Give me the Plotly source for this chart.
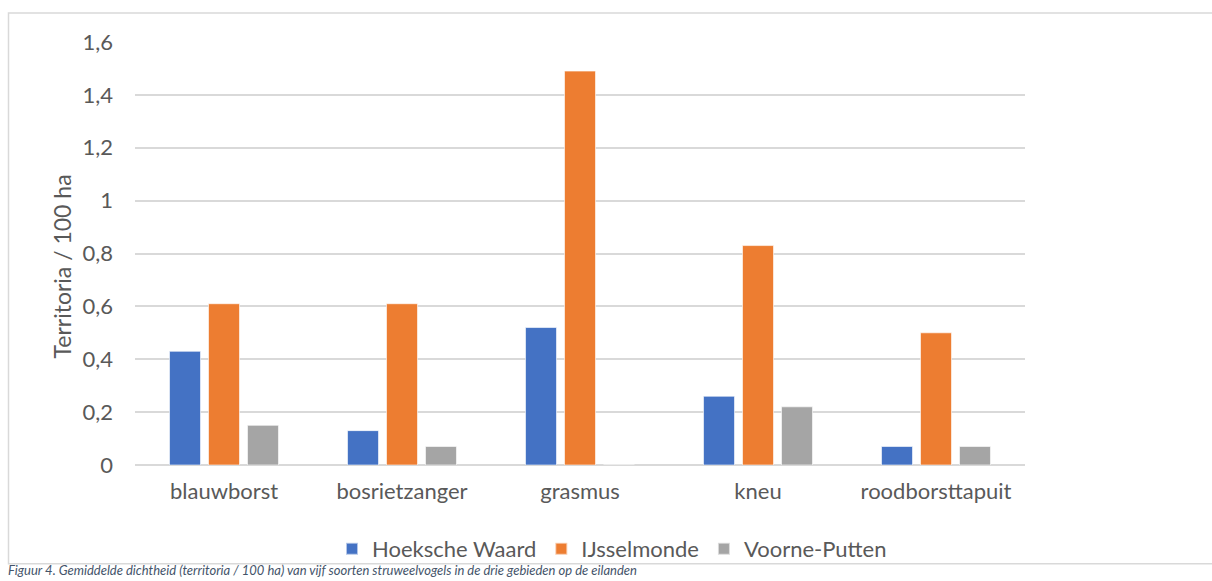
import plotly.graph_objects as go

categories = ["blauwborst", "bosrietzanger", "grasmus", "kneu", "roodborsttapuit"]
series_names = ["Hoeksche Waard", "IJsselmonde", "Voorne-Putten"]
hoeksche_waard = [0.43, 0.13, 0.52, 0.26, 0.07]
ijsselmonde = [0.61, 0.61, 1.49, 0.83, 0.50]
voorne_putten = [0.15, 0.07, 0.0, 0.22, 0.07]
tick_vals = [0, 0.2, 0.4, 0.6, 0.8, 1.0, 1.2, 1.4, 1.6]
tick_text = ["0", "0,2", "0,4", "0,6", "0,8", "1", "1,2", "1,4", "1,6"]
y_title = "Territoria / 100 ha"
caption = ("Figuur 4. Gemiddelde dichtheid (territoria / 100 ha) van vijf soorten "
           "struweelvogels in de drie gebieden op de eilanden")

colors = ["#4472C4", "#ED7D31", "#A5A5A5"]
W, H = 1212, 581
L, R, T, B = 135, 1025, 42, 466


def px(x):
    return (x - L) / (R - L)


def py(y):
    return (B - y) / (B - T)


FONT = "Lato"
TXT = "#595959"

fig = go.Figure()
for name, vals, c in zip(series_names, [hoeksche_waard, ijsselmonde, voorne_putten], colors):
    fig.add_trace(go.Bar(
        x=categories, y=vals, name=name,
        marker=dict(color=c, line=dict(color="rgba(255,255,255,0.6)", width=1)),
    ))

fig.update_layout(
    width=W, height=H,
    margin=dict(l=L, r=W - R, t=T, b=H - B, pad=0),
    paper_bgcolor="white", plot_bgcolor="white",
    barmode="group", bargap=0.343, bargroupgap=0.205,
    font=dict(family=FONT, size=22, color=TXT),
    showlegend=True,
    legend=dict(orientation="h", xanchor="center", yanchor="middle",
                x=px(612), y=py(549), font=dict(size=22, color=TXT),
                itemwidth=30, itemsizing="constant", bgcolor="rgba(0,0,0,0)",
                traceorder="normal"),
    xaxis=dict(showgrid=False, showline=False, zeroline=False, ticks="",
               tickfont=dict(size=22, color=TXT), ticklabelstandoff=11,
               fixedrange=True),
    yaxis=dict(range=[0, 1.6], tickvals=tick_vals, ticktext=tick_text,
               showgrid=True, gridcolor="#D9D9D9", gridwidth=1.5,
               zeroline=True, zerolinecolor="#D9D9D9", zerolinewidth=1.5,
               showline=False, ticks="", tickfont=dict(size=22, color=TXT),
               ticklabelstandoff=21, fixedrange=True),
)

# chart frame
fig.add_shape(type="rect", xref="paper", yref="paper",
              x0=px(8.5), x1=px(1230), y0=py(565), y1=py(13),
              line=dict(color="#D9D9D9", width=1.5), fillcolor="rgba(0,0,0,0)",
              layer="below")

fig.add_annotation(text=y_title, xref="paper", yref="paper",
                   x=px(62), y=py(267), textangle=-90, showarrow=False,
                   xanchor="center", yanchor="middle",
                   font=dict(family=FONT, size=23, color=TXT))

fig.add_annotation(text="<i>" + caption + "</i>", xref="paper", yref="paper",
                   x=px(6), y=py(581), showarrow=False, xanchor="left", yanchor="bottom",
                   font=dict(family=FONT, size=13, color="#44546A"))

fig.write_html("out.html", config={"displayModeBar": False},
               post_script="document.body.style.margin='0px';document.body.style.overflow='hidden';")
